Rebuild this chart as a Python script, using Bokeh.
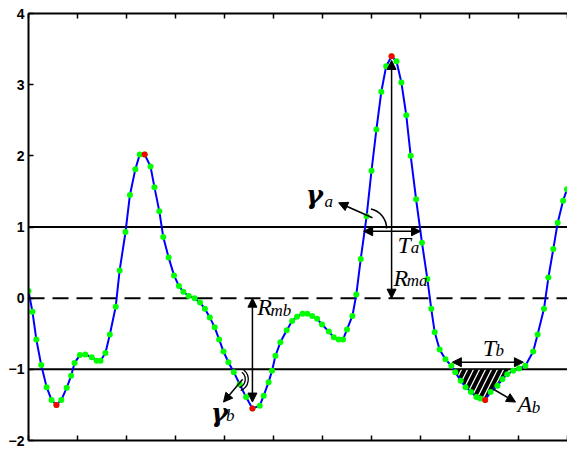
from bokeh.plotting import figure
from bokeh.models import Span, Arrow, NormalHead, FixedTicker, LinearAxis
from bokeh.core.properties import value
from bokeh.embed import file_html
from bokeh.resources import INLINE

# ---- curve samples ----
x_vals = [0.00, 0.08, 0.16, 0.26, 0.37, 0.47, 0.57, 0.67, 0.78, 0.87,
          0.94, 1.05, 1.16, 1.29, 1.39, 1.47, 1.57, 1.66, 1.78, 1.86,
          1.98, 2.07, 2.18, 2.27, 2.37, 2.49, 2.57, 2.67, 2.75, 2.86,
          2.97, 3.07, 3.16, 3.27, 3.39, 3.50, 3.60, 3.70, 3.80, 3.89,
          3.98, 4.08, 4.19, 4.31, 4.44, 4.57, 4.72, 4.80, 4.90, 4.97,
          5.04, 5.14, 5.27, 5.38, 5.48, 5.59, 5.69, 5.79, 5.89, 5.99,
          6.13, 6.23, 6.33, 6.42, 6.50, 6.61, 6.69, 6.78, 6.90, 7.00,
          7.10, 7.20, 7.30, 7.41, 7.51, 7.61, 7.71, 7.80, 7.91, 8.03,
          8.14, 8.22, 8.29, 8.39, 8.51, 8.63, 8.71, 8.82, 8.92, 9.03,
          9.14, 9.22, 9.32, 9.43, 9.57, 9.67, 9.77, 9.89, 10.01, 10.14,
          10.30, 10.39, 10.52, 10.61, 10.71, 10.80, 10.91, 10.99]
y_vals = [0.10, -0.19, -0.58, -0.94, -1.25, -1.43, -1.50, -1.43, -1.26, -1.09,
          -0.91, -0.80, -0.79, -0.83, -0.88, -0.88, -0.77, -0.51, -0.12, 0.39,
          0.93, 1.45, 1.81, 2.02, 2.02, 1.85, 1.56, 1.22, 0.86, 0.57,
          0.32, 0.17, 0.09, 0.03, 0.00, -0.06, -0.15, -0.27, -0.41, -0.58,
          -0.75, -0.90, -1.04, -1.21, -1.39, -1.55, -1.51, -1.37, -1.18, -1.02,
          -0.81, -0.62, -0.45, -0.32, -0.26, -0.22, -0.22, -0.25, -0.29, -0.37,
          -0.47, -0.55, -0.58, -0.58, -0.44, -0.25, 0.05, 0.55, 1.15, 1.79,
          2.37, 2.90, 3.26, 3.40, 3.33, 3.03, 2.57, 2.00, 1.39, 0.78,
          0.27, -0.15, -0.48, -0.72, -0.86, -0.95, -1.04, -1.16, -1.25, -1.32,
          -1.39, -1.41, -1.43, -1.32, -1.23, -1.14, -1.07, -1.02, -0.99, -0.95,
          -0.75, -0.51, -0.15, 0.29, 0.69, 1.06, 1.37, 1.53]

# extrema (red points)
ext_x = [0.57, 2.37, 4.57, 7.41, 9.32]
ext_y = [-1.50, 2.02, -1.55, 3.40, -1.43]

# reference levels
upper_level = 1.0
mean_level = 0.0
lower_level = -1.0

y_ticks = [-2, -1, 0, 1, 2, 3, 4]
x_ticks = list(range(12))

# hatched area A_b bounds
ab_left, ab_curve_end, ab_right = 8.68, 9.45, 9.80

# annotation arrows: (x0, y0, x1, y1, double-headed)
arrows = [
    (7.41, 0.0, 7.41, 3.34, True),     # R_ma
    (6.84, 0.94, 8.00, 0.94, True),    # T_a
    (4.57, 0.0, 4.57, -1.46, True),    # R_mb
    (8.65, -0.90, 10.10, -0.90, True), # T_b
    (7.02, 1.13, 6.33, 1.34, False),   # gamma_a
    (4.37, -1.14, 3.98, -1.46, False), # gamma_b
    (9.49, -1.28, 9.94, -1.46, False), # A_b
]

# labels: main letter (x, y, text) and subscript (x, y, text)
main_labels = [(7.45, 0.29, "R"), (7.53, 0.75, "T"), (4.67, -0.13, "R"),
               (9.27, -0.70, "T"), (9.98, -1.49, "A")]
sub_labels = [(7.72, 0.25, "ma"), (7.80, 0.71, "a"), (4.94, -0.18, "mb"),
              (9.53, -0.74, "b"), (10.27, -1.53, "b")]
gamma_labels = [(5.66, 1.45, "γ"), (3.72, -1.62, "γ")]
gamma_subs = [(6.04, 1.36, "a"), (4.03, -1.65, "b")]

p = figure(width=567, height=449, x_range=(0, 11), y_range=(-2, 4),
           output_backend="svg", toolbar_location=None,
           min_border_left=28, min_border_right=0, min_border_top=13,
           min_border_bottom=9)
p.outline_line_color = None
p.grid.visible = False
p.background_fill_color = "white"
p.border_fill_color = "white"

# axes
p.yaxis.ticker = FixedTicker(ticks=y_ticks)
p.xaxis.ticker = FixedTicker(ticks=x_ticks)
for ax in [p.yaxis[0], p.xaxis[0]]:
    ax.axis_line_width = 2
    ax.axis_line_color = "black"
    ax.major_tick_in = 5
    ax.major_tick_out = 0
    ax.major_tick_line_width = 1.5
    ax.minor_tick_line_color = None
p.yaxis.major_label_text_font = "Liberation Sans"
p.yaxis.major_label_text_font_size = "14px"
p.yaxis.major_label_text_font_style = "bold"
p.yaxis.major_label_text_color = "black"
p.yaxis.major_label_standoff = 4
p.xaxis.major_label_overrides = {t: "" for t in x_ticks}
p.xaxis.major_label_text_font_size = "1px"
p.xaxis.major_label_standoff = 0

top = LinearAxis(ticker=FixedTicker(ticks=x_ticks), axis_line_width=2,
                 major_tick_in=5, major_tick_out=0, major_tick_line_width=1.5,
                 minor_tick_line_color=None, major_label_text_font_size="1px",
                 major_label_overrides={t: "" for t in x_ticks},
                 major_label_standoff=0)
p.add_layout(top, "above")

# reference lines
for lvl, dash in [(upper_level, "solid"), (mean_level, "16 8"), (lower_level, "solid")]:
    p.add_layout(Span(location=lvl, dimension="width", line_color="black",
                      line_width=2, line_dash=dash, level="underlay"))

# hatched area A_b
hx = [ab_left] + [x for x in x_vals if ab_left < x <= ab_curve_end] + [ab_right]
hy = [lower_level] + [y for x, y in zip(x_vals, y_vals) if ab_left < x <= ab_curve_end] + [lower_level]
p.patch(hx, hy, fill_color="black", line_color="black", line_width=1,
        hatch_pattern="/", hatch_color="white", hatch_weight=1.3, hatch_scale=12)

# curve
p.line(x_vals, y_vals, line_color="#0000ff", line_width=2)
p.scatter(x_vals, y_vals, size=6, fill_color="#00ff00", line_color=None)
p.scatter(ext_x, ext_y, size=6, fill_color="#ff0000", line_color=None)

# arrows
for x0, y0, x1, y1, both in arrows:
    head = NormalHead(size=9, fill_color="black", line_color="black", line_width=1)
    start = NormalHead(size=9, fill_color="black", line_color="black", line_width=1) if both else None
    p.add_layout(Arrow(x_start=x0, y_start=y0, x_end=x1, y_end=y1, end=head,
                       start=start, line_color="black", line_width=1.5))

# angle arcs
p.arc(x=[6.90], y=[0.98], radius=20, radius_units="screen", start_angle=0,
      end_angle=1.35, direction="anticlock", line_color="black", line_width=1.5)
p.arc(x=[4.24, 4.24], y=[-1.14, -1.14], radius=[12, 9], radius_units="screen",
      start_angle=-1.2, end_angle=0.9, direction="anticlock", line_color="black",
      line_width=1.3)

serif = value("Liberation Serif")
p.text([l[0] for l in main_labels], [l[1] for l in main_labels], [l[2] for l in main_labels],
       text_font=serif, text_font_style="italic", text_font_size="24px",
       text_baseline="alphabetic", text_align="left", text_color="black")
p.text([l[0] for l in sub_labels], [l[1] for l in sub_labels], [l[2] for l in sub_labels],
       text_font=serif, text_font_style="italic", text_font_size="17px",
       text_baseline="alphabetic", text_align="left", text_color="black")
p.text([l[0] for l in gamma_labels], [l[1] for l in gamma_labels], [l[2] for l in gamma_labels],
       text_font=value("DejaVu Serif"), text_font_style="bold italic", text_font_size="26px",
       text_baseline="alphabetic", text_align="left", text_color="black")
p.text([l[0] for l in gamma_subs], [l[1] for l in gamma_subs], [l[2] for l in gamma_subs],
       text_font=serif, text_font_style="italic", text_font_size="17px",
       text_baseline="alphabetic", text_align="left", text_color="black")

open("out.html", "w").write(file_html(p, INLINE))
